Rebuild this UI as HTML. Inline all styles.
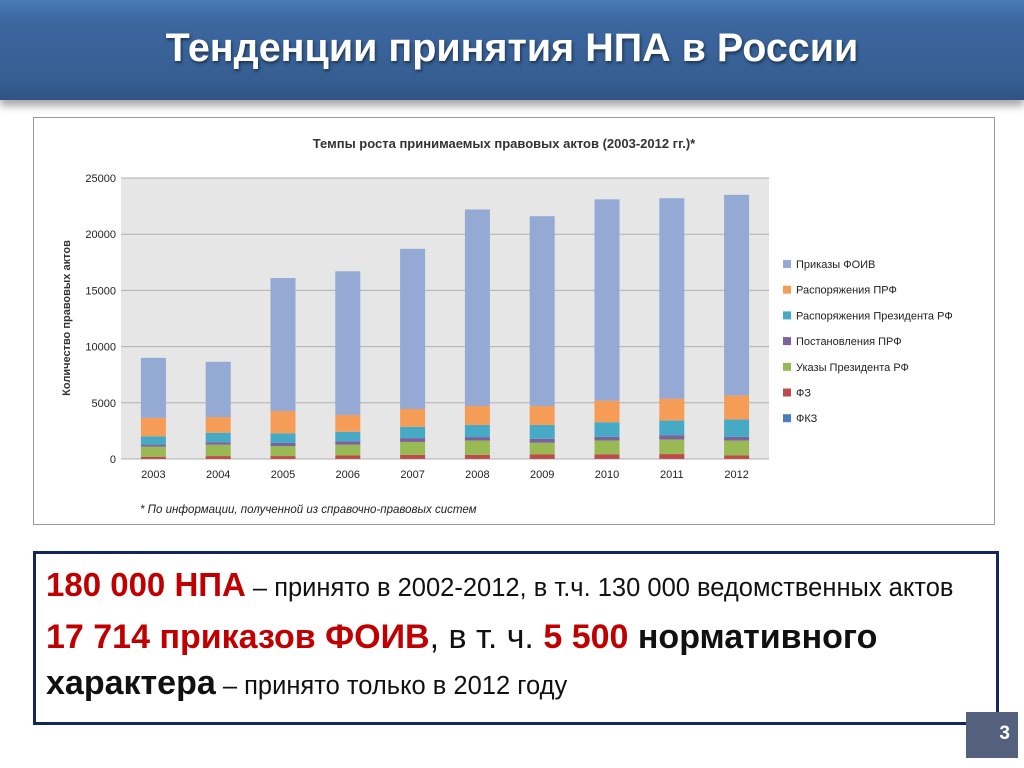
<!DOCTYPE html>
<html><head><meta charset="utf-8">
<style>
body{margin:0;width:1024px;height:768px;background:#fff;position:relative;overflow:hidden;font-family:"Liberation Sans",sans-serif;}
#hdr{position:absolute;left:0;top:0;width:1024px;height:100px;background:linear-gradient(#4a7ab8 0%,#3c679f 20%,#365e92 80%,#2f5482 100%);box-shadow:0 6px 8px rgba(0,0,0,0.35);}
#hdr h1{margin:0;position:absolute;left:0;right:0;top:26px;text-align:center;color:#fff;font-size:39.5px;font-weight:bold;text-shadow:1px 2px 3px rgba(0,0,0,0.5);}
#chartbox{position:absolute;left:33px;top:117px;width:960px;height:406px;border:1px solid #9a9a9a;background:#fff;}
#info{position:absolute;left:33px;top:551px;width:960px;height:168px;border:3px solid #13275e;background:#fff;}
#info p{margin:0;position:absolute;left:10px;color:#111;white-space:nowrap;}
.r{color:#c00000;font-weight:bold;}
.b{font-weight:bold;}
#pg{position:absolute;left:966px;top:712px;width:52px;height:46px;background:#55607f;color:#fff;font-weight:bold;font-size:19px;text-align:right;box-sizing:border-box;padding:11px 8px 0 0;}
</style></head><body>
<div id="hdr"><h1>Тенденции принятия НПА в России</h1></div>
<div id="chartbox">
<svg id="chart" width="960" height="406"></svg>
</div>
<div id="info">
<p style="top:12px;font-size:25.5px"><span class="r" style="font-size:33px">180 000 НПА</span> – принято в 2002-2012, в т.ч. 130 000 ведомственных актов</p>
<p style="top:64px;font-size:34px"><span class="r">17 714 приказов ФОИВ</span>, в т. ч. <span class="r">5 500</span> <span class="b">нормативного</span></p>
<p style="top:110px;font-size:25.5px"><span class="b" style="font-size:34px">характера</span> – принято только в 2012 году</p>
</div>
<div id="pg">3</div>
<script>
const years=["2003","2004","2005","2006","2007","2008","2009","2010","2011","2012"];
const fkz=[10,10,10,10,10,10,10,10,10,10];
const fz=[190,250,250,300,360,360,410,410,430,300];
const ukazy=[900,1020,890,970,1150,1280,1030,1230,1300,1340];
const postanovleniya=[180,210,280,300,340,300,350,320,380,320];
const raspPrezidenta=[740,850,850,840,1000,1080,1230,1300,1300,1540];
const raspPRF=[1640,1390,1990,1500,1590,1690,1690,1920,1950,2150];
const prikazyFOIV=[5340,4920,11830,12780,14250,17480,16880,17910,17830,17840];
const yTicks=[0,5000,10000,15000,20000,25000];
const seriesNames=["ФКЗ","ФЗ","Указы Президента РФ","Постановления ПРФ","Распоряжения Президента РФ","Распоряжения ПРФ","Приказы ФОИВ"];
const seriesData=[fkz,fz,ukazy,postanovleniya,raspPrezidenta,raspPRF,prikazyFOIV];
const colors=["#4a7ebb","#be4b48","#98b954","#7d60a0","#46aac5","#f59d56","#94a9d3"];
const NS="http://www.w3.org/2000/svg";
const svg=document.getElementById('chart');
const px0=87,px1=735,py0=341,py1=60,yMax=25000;
function y(v){return py0-(v/yMax)*(py0-py1);}
const bw=(px1-px0)/years.length;
function x(i){return px0+bw*(i+0.5);}
function mk(t,a){const e=document.createElementNS(NS,t);for(const k in a)e.setAttribute(k,a[k]);svg.appendChild(e);return e;}
const bg=mk('rect',{x:px0,y:py1,width:px1-px0,height:py0-py1,fill:'#e6e6e6'});


yTicks.forEach(t=>{
 const l=mk('line',{x1:px0,x2:px1,y1:y(t),y2:y(t),stroke:'#b0b0b0','stroke-width':1});
 
 
 const tx=mk('text',{x:px0-5,y:y(t)+4,'text-anchor':'end','font-size':11,fill:'#222'});
 tx.textContent=t;
 
 
});
years.forEach((yr,i)=>{
 let cum=0;
 seriesData.forEach((s,k)=>{
  const v=s[i];
  const r=mk('rect',{x:x(i)-12.5,y:y(cum+v),width:25,height:y(cum)-y(cum+v),fill:colors[k]});
  
  
  cum+=v;
 });
 const tx=mk('text',{x:x(i),y:py0+19,'text-anchor':'middle','font-size':11,fill:'#222'});
 tx.textContent=yr;
 
 
});
const ttl=mk('text',{x:470,y:30,'text-anchor':'middle','font-size':13,'font-weight':'bold',fill:'#333'});
ttl.textContent='Темпы роста принимаемых правовых актов (2003-2012 гг.)*';


const yt=mk('text',{x:0,y:0,'text-anchor':'middle','font-size':11,'font-weight':'bold',fill:'#333',transform:'translate(36,200) rotate(-90)'});
yt.textContent='Количество правовых актов';


for(let k=seriesNames.length-1,j=0;k>=0;k--,j++){
 const ly=146+j*25.7;
 const r=mk('rect',{x:749,y:ly-4,width:8,height:8,fill:colors[k]});
 
 
 const t=mk('text',{x:762,y:ly+4,'font-size':11,fill:'#222'});
 t.textContent=seriesNames[k];
 
 
}
const note=mk('text',{x:106,y:395,'font-size':11.5,'font-style':'italic',fill:'#222'});
note.textContent='* По информации, полученной из справочно-правовых систем';


</script>
</body></html>
